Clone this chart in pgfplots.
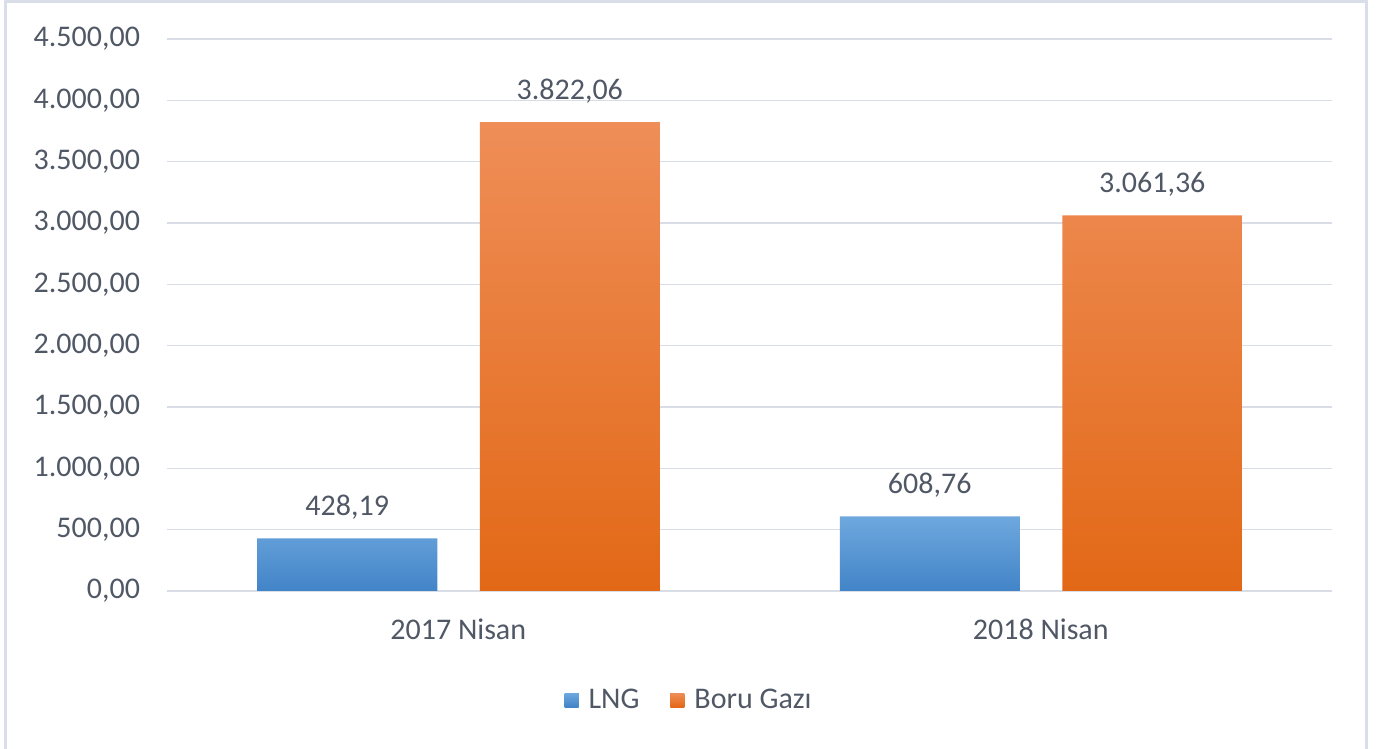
\documentclass[border=0pt]{standalone}
\usepackage{pgfplots}
\pgfplotsset{compat=1.18}
\usepackage{fontspec}
\setmainfont{Carlito}
\definecolor{txt}{RGB}{80,88,102}
\definecolor{gridc}{RGB}{217,222,230}
\definecolor{frame}{RGB}{217,222,232}
\definecolor{bluetop}{RGB}{110,168,222}
\definecolor{bluebot}{RGB}{66,132,200}
\definecolor{orgtop}{RGB}{239,142,88}
\definecolor{orgbot}{RGB}{226,104,22}
\begin{document}
\begin{tikzpicture}
\useasboundingbox (0pt,0pt) rectangle (691pt,374.5pt);
\draw[frame,line width=1.5pt] (2.5pt,0pt) -- (2.5pt,373.5pt) -- (683pt,373.5pt) -- (683pt,0pt);
\begin{axis}[
  at={(83.5pt,79pt)}, anchor=south west,
  scale only axis, width=582.5pt, height=276pt,
  xmin=-0.5, xmax=1.5, ymin=0, ymax=4500,
  xtick={0,1}, xticklabels={2017 Nisan,2018 Nisan},
  ytick={0,500,...,4500},
  axis x line*=bottom, axis y line*=left,
  x axis line style={gridc, line width=0.8pt, -},
  y axis line style={draw=none},
  major tick length=0pt,
  ymajorgrids, grid style={gridc, line width=0.8pt},
  font=\fontsize{15}{18}\selectfont,
  every tick label/.append style={text=txt},
  yticklabel style={xshift=-10pt},
  xticklabel style={yshift=-10.5pt},
  /pgf/number format/.cd, fixed, fixed zerofill, precision=2, use comma, assume math mode=true,
  /pgfplots/.cd,
  yticklabel={\pgfmathprintnumber{\tick}},
  ybar, bar width=90pt,
  nodes near coords,
  every node near coord/.append style={text=txt, yshift=6pt, font=\fontsize{15}{18}\selectfont},
  legend style={at={(0.449,-0.1975)}, anchor=center, draw=none, fill=none,
    legend columns=-1, font=\fontsize{15}{18}\selectfont, text=txt,
    /tikz/every even column/.append style={column sep=13.5pt}},
  legend cell align=left,
]
\addplot[bar shift=-55.5pt, draw=none, top color=bluetop, bottom color=bluebot,
  legend image code/.code={\fill[bluebot!80!bluetop] (0pt,-3.5pt) rectangle (7pt,3.5pt); \path (0pt,0pt) -- (10pt,0pt);}]
  coordinates {(0,428.19) (1,608.76)};
\addplot[bar shift=55.75pt, draw=none, top color=orgtop, bottom color=orgbot,
  legend image code/.code={\fill[orgbot!70!orgtop] (0pt,-3.5pt) rectangle (7pt,3.5pt); \path (0pt,0pt) -- (10pt,0pt);}]
  coordinates {(0,3822.06) (1,3061.36)};
\legend{LNG,Boru Gazı}
\end{axis}
\end{tikzpicture}
\end{document}
